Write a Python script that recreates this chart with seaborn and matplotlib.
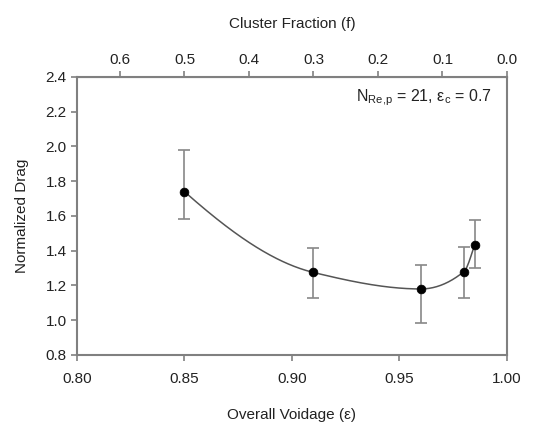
import numpy as np
import pandas as pd
import matplotlib
matplotlib.use('Agg')
import matplotlib.pyplot as plt
import seaborn as sns

# data
voidage = [0.85, 0.91, 0.96, 0.98, 0.985]
drag = [1.74, 1.275, 1.18, 1.28, 1.435]
err_low = [1.58, 1.13, 0.985, 1.13, 1.30]
err_high = [1.98, 1.415, 1.32, 1.42, 1.575]
eps_c = 0.7
f_ticks = [0.6, 0.5, 0.4, 0.3, 0.2, 0.1, 0.0]

sns.set_style('ticks')
plt.rcParams['font.family'] = ['Liberation Sans', 'DejaVu Sans']
plt.rcParams['mathtext.fontset'] = 'custom'
plt.rcParams['mathtext.rm'] = 'Liberation Sans'
plt.rcParams['mathtext.it'] = 'Liberation Sans:italic'

txt = '#222222'
spine = '#808080'
fs = 11


def pchip(x, y, n=300):
    # monotone cubic (Fritsch-Carlson) smooth line through the points
    x = np.asarray(x, float)
    y = np.asarray(y, float)
    h = np.diff(x)
    dl = np.diff(y) / h
    k = len(x)
    m = np.zeros(k)
    for i in range(1, k - 1):
        if dl[i - 1] * dl[i] > 0:
            w1 = 2 * h[i] + h[i - 1]
            w2 = h[i] + 2 * h[i - 1]
            m[i] = (w1 + w2) / (w1 / dl[i - 1] + w2 / dl[i])
    m[0] = ((2 * h[0] + h[1]) * dl[0] - h[0] * dl[1]) / (h[0] + h[1])
    if np.sign(m[0]) != np.sign(dl[0]):
        m[0] = 0
    m[-1] = ((2 * h[-1] + h[-2]) * dl[-1] - h[-1] * dl[-2]) / (h[-1] + h[-2])
    if np.sign(m[-1]) != np.sign(dl[-1]):
        m[-1] = 0
    xs = np.linspace(x[0], x[-1], n)
    ys = np.empty_like(xs)
    for j, xv in enumerate(xs):
        i = min(np.searchsorted(x, xv, side='right') - 1, k - 2)
        t = (xv - x[i]) / h[i]
        h00 = 2 * t ** 3 - 3 * t ** 2 + 1
        h10 = t ** 3 - 2 * t ** 2 + t
        h01 = -2 * t ** 3 + 3 * t ** 2
        h11 = t ** 3 - t ** 2
        ys[j] = h00 * y[i] + h10 * h[i] * m[i] + h01 * y[i + 1] + h11 * h[i] * m[i + 1]
    return xs, ys


df = pd.DataFrame({'voidage': voidage, 'drag': drag})
xs, ys = pchip(voidage, drag)
curve = pd.DataFrame({'voidage': xs, 'drag': ys})

fig = plt.figure(figsize=(5.37, 4.23), dpi=100)
ax = fig.add_axes([0.1434, 0.1608, 0.8006, 0.6572])

lo = np.array(drag) - np.array(err_low)
hi = np.array(err_high) - np.array(drag)
ax.errorbar(voidage, drag, yerr=[lo, hi], fmt='none', ecolor='#888888',
            elinewidth=1.2, capsize=4, capthick=1.2, zorder=2)
sns.lineplot(data=curve, x='voidage', y='drag', ax=ax, color='#555555',
             linewidth=1.1, zorder=3)
sns.scatterplot(data=df, x='voidage', y='drag', ax=ax, color='black',
                s=40, edgecolor='black', zorder=4)

ax.set_xlim(0.80, 1.00)
ax.set_ylim(0.8, 2.4)
ax.set_xticks([0.80, 0.85, 0.90, 0.95, 1.00])
ax.set_xticklabels(['0.80', '0.85', '0.90', '0.95', '1.00'])
ax.set_yticks(np.arange(0.8, 2.41, 0.2))
ax.set_yticklabels([f'{v:.1f}' for v in np.arange(0.8, 2.41, 0.2)])
ax.set_xlabel('Overall Voidage (ε)', fontsize=fs, color=txt, labelpad=16)
ax.set_ylabel('Normalized Drag', fontsize=fs, color=txt, labelpad=12)
ax.tick_params(labelsize=fs, colors=spine, labelcolor=txt, length=4, width=1.2)
ax.tick_params(axis='x', pad=8)
for s in ax.spines.values():
    s.set_color(spine)
    s.set_linewidth(1.5)

top = ax.secondary_xaxis('top', functions=(lambda e: (1 - e) / (1 - eps_c),
                                           lambda f: 1 - f * (1 - eps_c)))
top.set_xticks(f_ticks)
top.set_xticklabels([f'{v:.1f}' for v in f_ticks])
top.tick_params(labelsize=fs, colors=spine, labelcolor=txt, length=4, width=1.2)
top.spines['top'].set_color(spine)
top.set_xlabel('Cluster Fraction (f)', fontsize=fs, color=txt, labelpad=18)

ax.text(0.965, 0.924, 'N$_\\mathrm{Re{,}p}$ = 21, ε$_\\mathrm{c}$ = 0.7',
        transform=ax.transAxes, ha='right', va='center', fontsize=11.5, color=txt)

fig.savefig('out.png', dpi=100)
